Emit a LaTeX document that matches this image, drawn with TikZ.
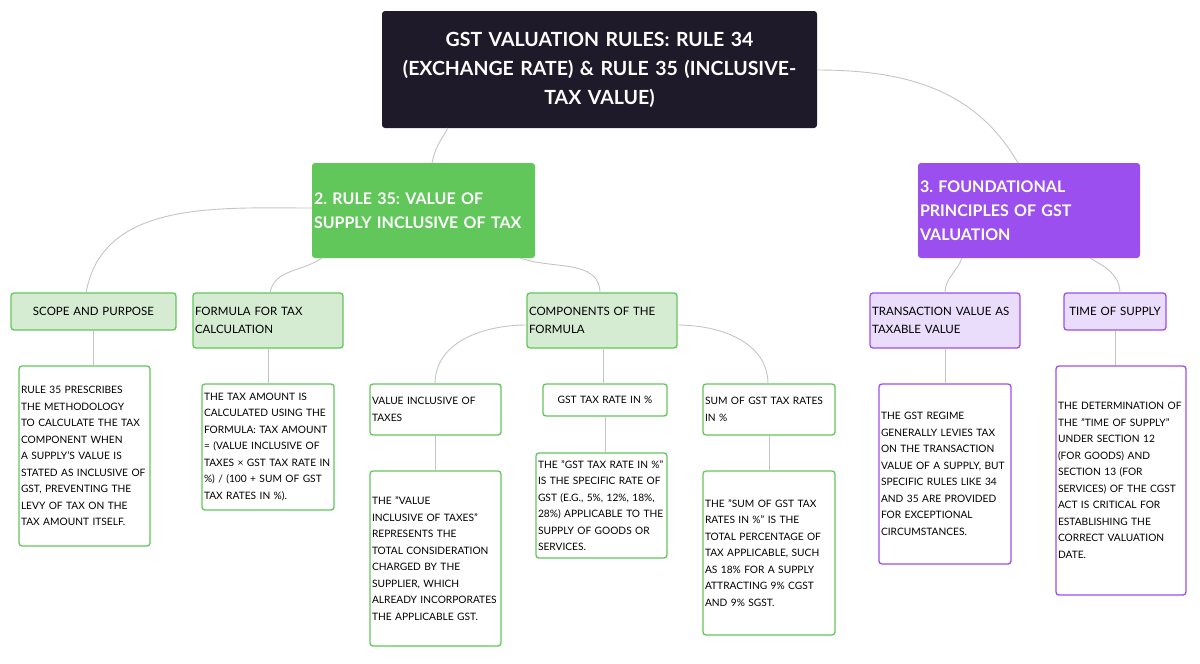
\documentclass[tikz,border=0pt]{standalone}
\usepackage{fontspec}
\setmainfont{Lato}
\frenchspacing
\hyphenpenalty=10000 \exhyphenpenalty=10000
\definecolor{dark}{HTML}{1F1A2A}
\definecolor{grn}{HTML}{62C75A}
\definecolor{lgrn}{HTML}{D5ECD3}
\definecolor{pur}{HTML}{9B4FEF}
\definecolor{lpur}{HTML}{E9DDFB}
\definecolor{conn}{HTML}{C4C4C4}
\begin{document}
\hyphenpenalty=10000 \exhyphenpenalty=10000
\begin{tikzpicture}[x=1pt,y=-1pt,
  bx/.style={rounded corners=3pt,inner sep=0pt,align=left,line width=1.3pt},
  rootbox/.style={bx,fill=dark,text=white,font=\bfseries\fontsize{19.5}{29}\selectfont,align=center},
  topg/.style={bx,fill=grn,text=white,font=\bfseries\fontsize{16}{24}\selectfont},
  topp/.style={bx,fill=pur,text=white,font=\bfseries\fontsize{16}{24}\selectfont},
  subg/.style={bx,draw=grn,fill=lgrn,font=\fontsize{11.5}{18}\selectfont},
  subp/.style={bx,draw=pur,fill=lpur,font=\fontsize{11.5}{18}\selectfont},
  detg/.style={bx,draw=grn,fill=white,font=\fontsize{10.2}{16.5}\selectfont},
  detp/.style={bx,draw=pur,fill=white,font=\fontsize{10.2}{16.5}\selectfont},
  link/.style={draw=conn,line width=0.9pt}]
\useasboundingbox (0,0) rectangle (1200,664);
\newcommand{\bbox}[7]{%
  \node[#2,minimum width=#5-#3,minimum height=#6-#4,text width=#5-#3-4] (#1) at ({(#3+#5)/2},{(#4+#6)/2}) {#7};}
\bbox{root}{rootbox}{382}{11}{817}{128}{GST VALUATION RULES: RULE 34\\(EXCHANGE RATE) \& RULE 35 (INCLUSIVE-\\TAX VALUE)}
\bbox{r35}{topg}{312}{163}{535}{258}{2. RULE 35: VALUE OF\\SUPPLY INCLUSIVE OF TAX}
\bbox{fnd}{topp}{918}{163}{1140}{258}{3. FOUNDATIONAL\\PRINCIPLES OF GST\\VALUATION}
\bbox{scope}{subg,align=center}{11}{293}{176}{330}{SCOPE AND PURPOSE}
\bbox{form}{subg}{193}{293}{343}{348}{FORMULA FOR TAX\\CALCULATION}
\bbox{comp}{subg}{527}{293}{677}{348}{COMPONENTS OF THE\\FORMULA}
\bbox{trans}{subp}{870}{293}{1020}{348}{TRANSACTION VALUE AS\\TAXABLE VALUE}
\bbox{time}{subp,align=center}{1064}{293}{1166}{330}{TIME OF SUPPLY}
\bbox{vit}{detg}{370}{384}{501}{435}{VALUE INCLUSIVE OF\\TAXES}
\bbox{rate}{detg,align=center}{543}{384}{667}{416}{GST TAX RATE IN \%}
\bbox{sum}{detg}{703}{384}{835}{435}{SUM OF GST TAX RATES\\IN \%}
\bbox{scoped}{detg}{19}{366}{150}{546}{RULE 35 PRESCRIBES THE METHODOLOGY TO CALCULATE THE TAX COMPONENT WHEN A SUPPLY'S VALUE IS STATED AS INCLUSIVE OF GST, PREVENTING THE LEVY OF TAX ON THE TAX AMOUNT ITSELF.}
\bbox{formd}{detg}{202}{384}{334}{510}{THE TAX AMOUNT IS CALCULATED USING THE FORMULA: TAX AMOUNT = (VALUE INCLUSIVE OF TAXES × GST TAX RATE IN \%) / (100 + SUM OF GST TAX RATES IN \%).}
\bbox{vitd}{detg}{370}{471}{501}{646}{THE "VALUE INCLUSIVE OF TAXES" REPRESENTS THE TOTAL CONSIDERATION CHARGED BY THE SUPPLIER, WHICH ALREADY INCORPORATES THE APPLICABLE GST.}
\bbox{rated}{detg}{536}{453}{667}{558}{THE "GST TAX RATE IN \%" IS THE SPECIFIC RATE OF GST (E.G., 5\%, 12\%, 18\%, 28\%) APPLICABLE TO THE SUPPLY OF GOODS OR SERVICES.}
\bbox{sumd}{detg}{703}{471}{835}{635}{THE "SUM OF GST TAX RATES IN \%" IS THE TOTAL PERCENTAGE OF TAX APPLICABLE, SUCH AS 18\% FOR A SUPPLY ATTRACTING 9\% CGST AND 9\% SGST.}
\bbox{transd}{detp}{879}{384}{1011}{564}{THE GST REGIME GENERALLY LEVIES TAX ON THE TRANSACTION VALUE OF A SUPPLY, BUT SPECIFIC RULES LIKE 34 AND 35 ARE PROVIDED FOR EXCEPTIONAL CIRCUMSTANCES.}
\bbox{timed}{detp}{1056}{366}{1186}{595}{THE DETERMINATION OF THE "TIME OF SUPPLY" UNDER SECTION 12 (FOR GOODS) AND SECTION 13 (FOR SERVICES) OF THE CGST ACT IS CRITICAL FOR ESTABLISHING THE CORRECT VALUATION DATE.}
\path[link] (448,128) to[out=240,in=80] (432,163);
\path[link] (817,70) to[out=0,in=120] (1018,163);
\path[link] (312,208) to[out=180,in=80] (86,293);
\path[link] (322,258) to[out=215,in=80] (270,293);
\path[link] (520,258) to[out=-20,in=90] (600,293);
\path[link] (527,325) to[out=180,in=90] (435,384);
\path[link] (scope.south) -- (scope.south|-scoped.north);
\path[link] (form.south) -- (form.south|-formd.north);
\path[link] (603,348) -- (603,384);
\path[link] (677,325) to[out=0,in=90] (768,384);
\path[link] (vit.south) -- (vit.south|-vitd.north);
\path[link] (rate.south) -- (rate.south|-rated.north);
\path[link] (sum.south) -- (sum.south|-sumd.north);
\path[link] (962,258) to[out=250,in=90] (945,293);
\path[link] (1090,258) to[out=-30,in=90] (1120,293);
\path[link] (trans.south) -- (trans.south|-transd.north);
\path[link] (time.south) -- (time.south|-timed.north);
\end{tikzpicture}
\end{document}
